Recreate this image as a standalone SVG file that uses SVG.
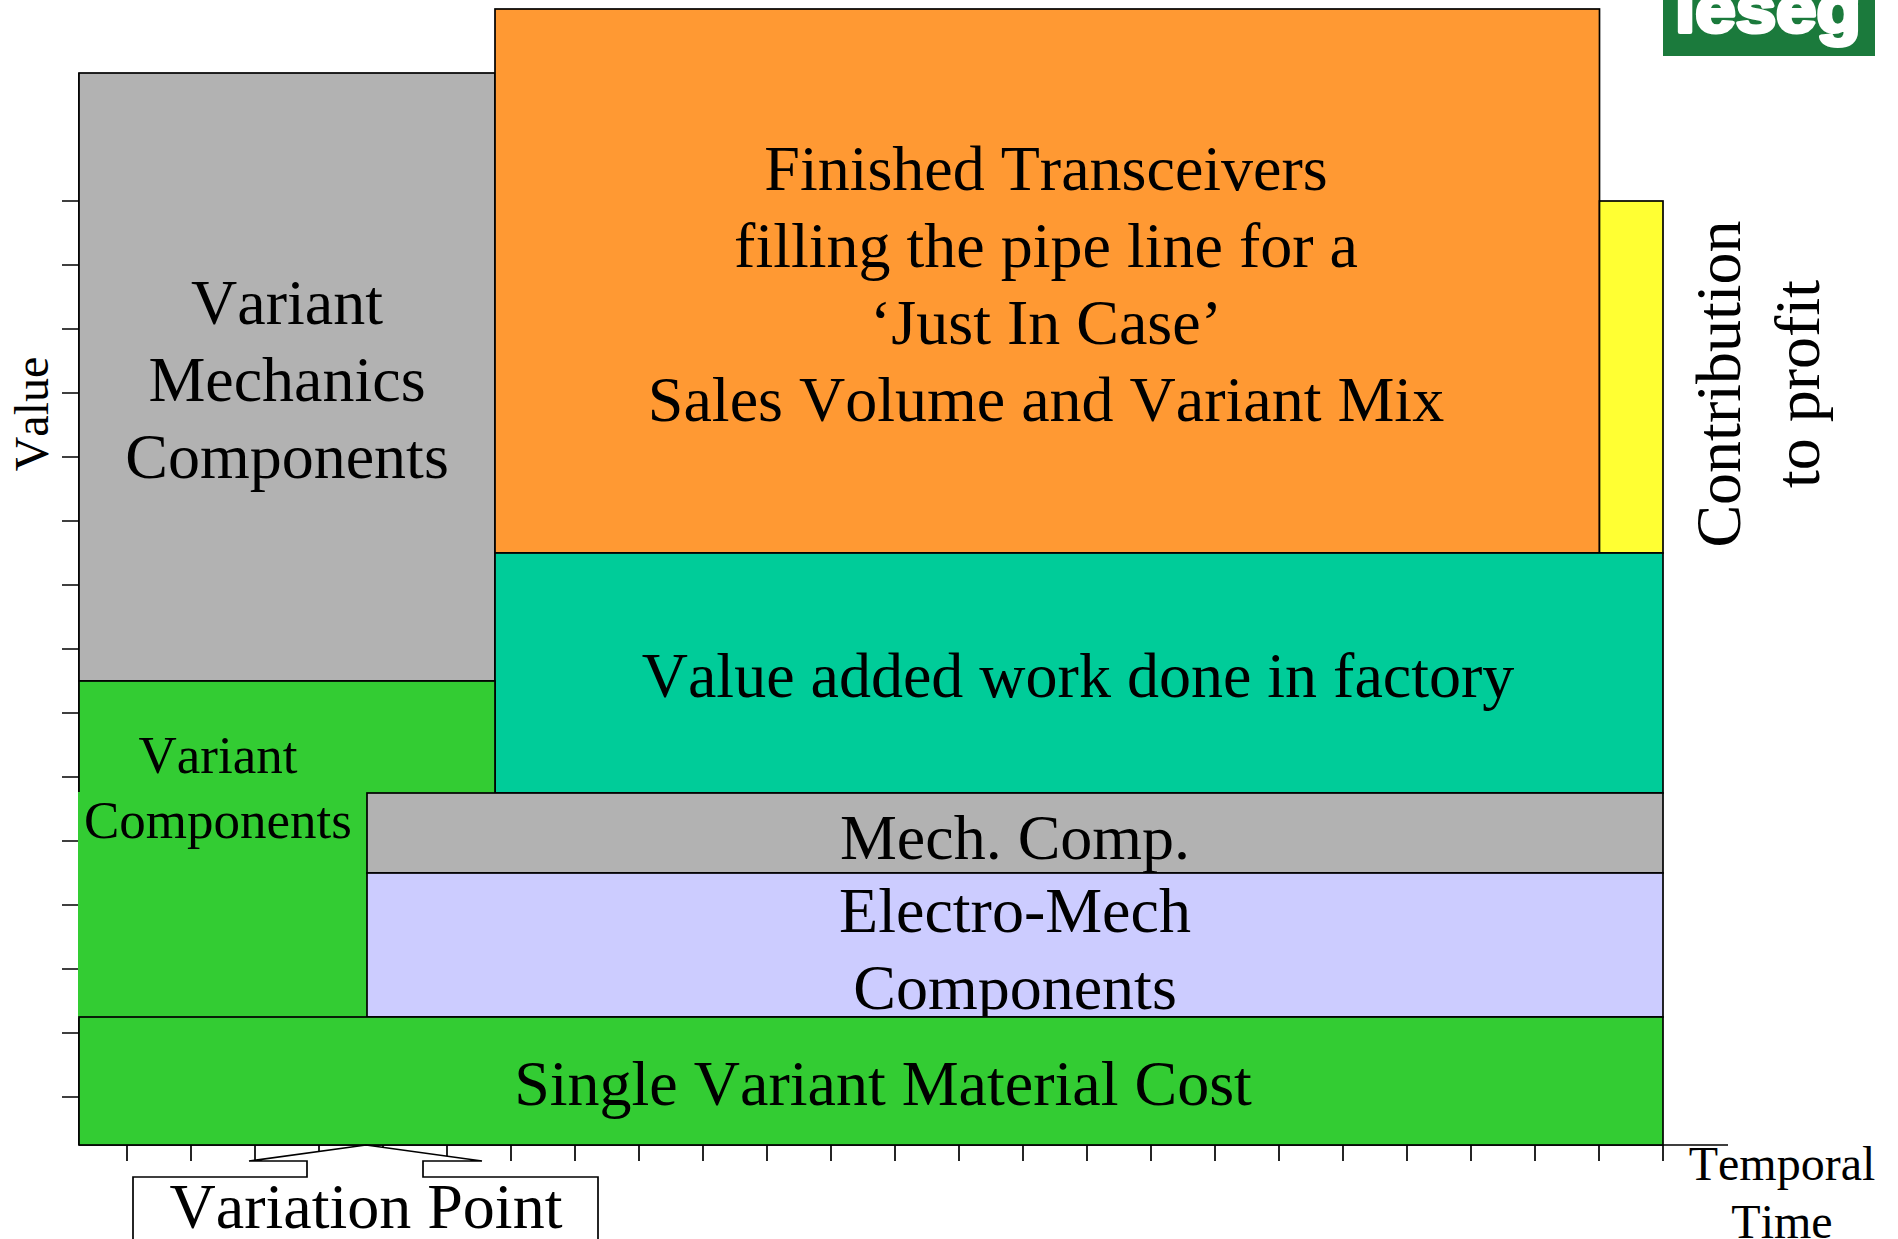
<svg xmlns="http://www.w3.org/2000/svg" width="1898" height="1239" viewBox="0 0 1898 1239">
<style>
.b{stroke:#000;stroke-width:1.7}
.t{font-family:"Liberation Serif","Times New Roman",serif;font-size:64px;fill:#000;text-anchor:middle;font-kerning:none}
.s{font-size:53px}
.m{font-size:48px}
.k{stroke:#000;stroke-width:1.7;fill:none}
</style>
<rect width="1898" height="1239" fill="#fff"/>
<g id="logo">
<rect x="1663" y="-4" width="212" height="60" fill="#1B7A3C"/>
<text x="1768" y="32" font-family="'Liberation Sans',Arial,sans-serif" font-weight="700" font-size="66" fill="#fff" stroke="#fff" stroke-width="4" stroke-linejoin="round" text-anchor="middle" textLength="186" lengthAdjust="spacingAndGlyphs">leseg</text>
</g>
<g id="connectors">
<path class="k" d="M79 73V1145M62 201H79M62 265H79M62 329H79M62 393H79M62 457H79M62 521H79M62 585H79M62 649H79M62 713H79M62 777H79M62 841H79M62 905H79M62 969H79M62 1033H79M62 1097H79"/>
<path class="k" d="M79 1145H1728M127 1145v16M191 1145v16M255 1145v16M319 1145v16M383 1145v16M447 1145v16M511 1145v16M575 1145v16M639 1145v16M703 1145v16M767 1145v16M831 1145v16M895 1145v16M959 1145v16M1023 1145v16M1087 1145v16M1151 1145v16M1215 1145v16M1279 1145v16M1343 1145v16M1407 1145v16M1471 1145v16M1535 1145v16M1599 1145v16M1663 1145v16"/>
</g>
<g id="mechanics"><rect class="b" x="79" y="73" width="416" height="608" fill="#B2B2B2"/>
<text class="t" x="287" y="324">Variant</text><text class="t" x="287" y="401">Mechanics</text><text class="t" x="287" y="478">Components</text></g>
<g id="finished"><rect class="b" x="495" y="9" width="1104.5" height="544" fill="#FF9933"/>
<text class="t" x="1046" y="190">Finished Transceivers</text><text class="t" x="1046" y="267">filling the pipe line for a</text><text class="t" x="1046" y="344">‘Just In Case’</text><text class="t" x="1046" y="421">Sales Volume and Variant Mix</text></g>
<g id="profit"><rect class="b" x="1599.5" y="201" width="63.5" height="352" fill="#FFFF33"/></g>
<g id="factory"><rect class="b" x="495" y="553" width="1168" height="240" fill="#00CC99"/>
<text class="t" x="1078" y="697">Value added work done in factory</text></g>
<g id="variant-components"><rect class="b" x="79" y="681" width="416" height="336" fill="#33CC33"/>
<rect x="78" y="792" width="289" height="226" fill="#33CC33"/>
<text class="t s" x="218" y="773">Variant</text><text class="t s" x="218" y="838">Components</text></g>
<g id="mech-comp"><rect class="b" x="367" y="793" width="1296" height="80" fill="#B2B2B2"/>
<text class="t" x="1015" y="859">Mech. Comp.</text></g>
<g id="electro-mech"><rect class="b" x="367" y="873" width="1296" height="144" fill="#CCCCFF"/>
<text class="t" x="1015" y="932">Electro-Mech</text><text class="t" x="1015" y="1009">Components</text></g>
<g id="single"><rect class="b" x="79" y="1017" width="1584" height="128" fill="#33CC33"/>
<text class="t" x="883" y="1105">Single Variant Material Cost</text></g>
<g id="variation-point"><path class="b" fill="#fff" d="M366 1145L249 1161H307V1177H133V1245H598V1177H423V1161H482Z"/>
<text class="t" x="366" y="1228">Variation Point</text></g>
<g id="labels">
<text class="t m" transform="translate(48 414) rotate(-90)">Value</text>
<text class="t" transform="translate(1740 384) rotate(-90)">Contribution</text>
<text class="t" transform="translate(1819 384) rotate(-90)">to profit</text>
<text class="t m" x="1782" y="1180">Temporal</text>
<text class="t m" x="1782" y="1238">Time</text>
</g>
</svg>
